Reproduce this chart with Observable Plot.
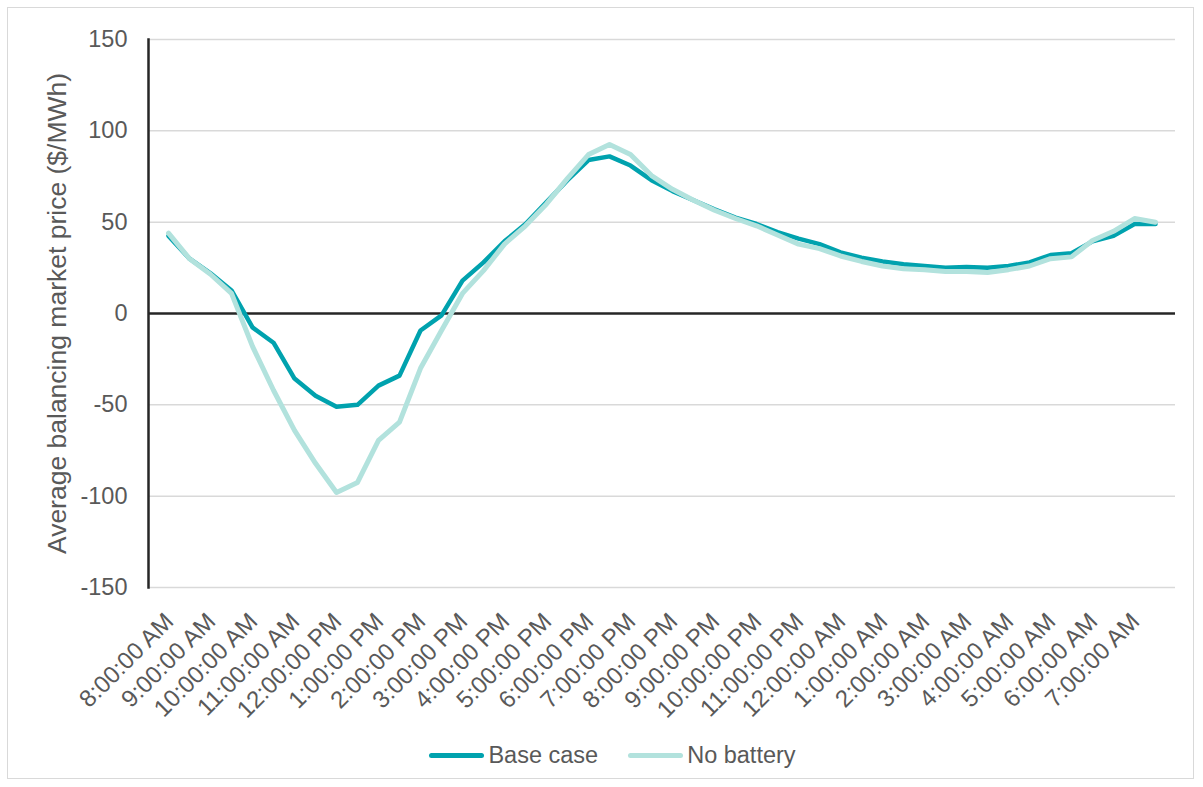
<!DOCTYPE html>
<html>
<head>
<meta charset="utf-8">
<script src="https://cdn.jsdelivr.net/npm/d3@7"></script>
<script src="https://cdn.jsdelivr.net/npm/@observablehq/plot@0.6"></script>
<style>
  html, body { margin: 0; padding: 0; background: #fff; }
  #wrap { position: relative; width: 1203px; height: 787px; overflow: hidden; font-family: "Liberation Sans", Arial, sans-serif; }
  #border { position: absolute; left: 7px; top: 7px; width: 1187px; height: 772px; border: 1px solid #d9d9d9; box-sizing: border-box; }
  #chart { position: absolute; left: 0; top: 0; }
  #legend { position: absolute; top: 742px; left: 0; width: 1203px; box-sizing: border-box; padding-left: 22px; display: flex; justify-content: center; align-items: center; font-size: 23.5px; line-height: 27px; color: #595959; }
  .item { display: flex; align-items: center; }
  .item + .item { margin-left: 30px; }
  .sw { width: 55px; height: 5px; border-radius: 3px; margin-right: 4px; }
</style>
</head>
<body>
<div id="wrap">
  <div id="border"></div>
  <div id="chart"></div>
  <div id="legend"></div>
</div>
<script>
const times = [
  "8:00:00 AM","8:30:00 AM","9:00:00 AM","9:30:00 AM","10:00:00 AM","10:30:00 AM",
  "11:00:00 AM","11:30:00 AM","12:00:00 PM","12:30:00 PM","1:00:00 PM","1:30:00 PM",
  "2:00:00 PM","2:30:00 PM","3:00:00 PM","3:30:00 PM","4:00:00 PM","4:30:00 PM",
  "5:00:00 PM","5:30:00 PM","6:00:00 PM","6:30:00 PM","7:00:00 PM","7:30:00 PM",
  "8:00:00 PM","8:30:00 PM","9:00:00 PM","9:30:00 PM","10:00:00 PM","10:30:00 PM",
  "11:00:00 PM","11:30:00 PM","12:00:00 AM","12:30:00 AM","1:00:00 AM","1:30:00 AM",
  "2:00:00 AM","2:30:00 AM","3:00:00 AM","3:30:00 AM","4:00:00 AM","4:30:00 AM",
  "5:00:00 AM","5:30:00 AM","6:00:00 AM","6:30:00 AM","7:00:00 AM","7:30:00 AM"
];
const tickLabels = times.filter(t => t.includes(":00:00"));
const baseCase = [42.5, 30, 22, 12.6, -7.6, -16, -35.6, -45, -51, -50, -39.5, -34,
  -9.3, -1, 18, 28, 39.5, 49, 61, 73, 84, 86, 81, 73,
  67, 62, 57, 52.5, 49, 44.5, 41, 38, 33.5, 30.5, 28.5, 27,
  26, 25, 25.5, 25, 26, 28, 32, 33, 39.5, 42.5, 49, 49];
const noBattery = [44, 30, 21.5, 11, -18, -42, -64, -82, -98, -92.5, -69.5, -59.5,
  -30, -9.3, 11, 23.5, 38, 48, 60, 74, 87, 92.5, 87, 75.5,
  68, 62, 56.5, 52, 48, 43, 38, 35.5, 31.5, 28.5, 26, 24.5,
  24, 23, 23, 22.5, 24, 26, 30, 31, 40, 45, 52, 50];
const seriesNames = ["Base case", "No battery"];
const seriesColors = ["#00A2AE", "#B2E2DD"];
const yTicks = [-150, -100, -50, 0, 50, 100, 150];
const yLabel = "Average balancing market price ($/MWh)";

const rows = [];
times.forEach((t, i) => {
  rows.push({time: t, value: baseCase[i], series: seriesNames[0]});
  rows.push({time: t, value: noBattery[i], series: seriesNames[1]});
});

const chart = Plot.plot({
  width: 1203,
  height: 740,
  marginLeft: 148,
  marginRight: 28,
  marginTop: 39,
  marginBottom: 153,
  style: {fontFamily: '"Liberation Sans", Arial, sans-serif', color: "#595959", background: "transparent"},
  x: {type: "point", domain: times, padding: 0.5},
  y: {domain: [-150, 150]},
  color: {domain: seriesNames, range: seriesColors},
  marks: [
    Plot.gridY(yTicks.filter(d => d !== 0), {stroke: "#d9d9d9", strokeOpacity: 1, strokeWidth: 1.5}),
    Plot.axisY(yTicks, {tickSize: 0, tickPadding: 21, fontSize: 23.5, tickFormat: d => String(d), label: null}),
    Plot.axisY([], {label: yLabel, labelAnchor: "center", labelArrow: "none", labelOffset: 101, fontSize: 26.5}),
    Plot.axisX(tickLabels, {tickSize: 0, tickPadding: 6, tickRotate: -45, fontSize: 24, dx: 1, dy: 24, label: null}),
    Plot.ruleY([0], {stroke: "#262626", strokeWidth: 2.5}),
    Plot.frame({anchor: "left", stroke: "#262626", strokeWidth: 2.5}),
    Plot.lineY(rows.filter(d => d.series === seriesNames[0]), {x: "time", y: "value", stroke: "series", strokeWidth: 4.5, strokeLinejoin: "round"}),
    Plot.lineY(rows.filter(d => d.series === seriesNames[1]), {x: "time", y: "value", stroke: "series", strokeWidth: 5, strokeLinejoin: "round"})
  ]
});
document.getElementById("chart").appendChild(chart);

const legend = document.getElementById("legend");
seriesNames.forEach((name, i) => {
  const item = document.createElement("div");
  item.className = "item";
  const sw = document.createElement("div");
  sw.className = "sw";
  sw.style.background = seriesColors[i];
  const lab = document.createElement("span");
  lab.textContent = name;
  item.appendChild(sw);
  item.appendChild(lab);
  legend.appendChild(item);
});
</script>
</body>
</html>
